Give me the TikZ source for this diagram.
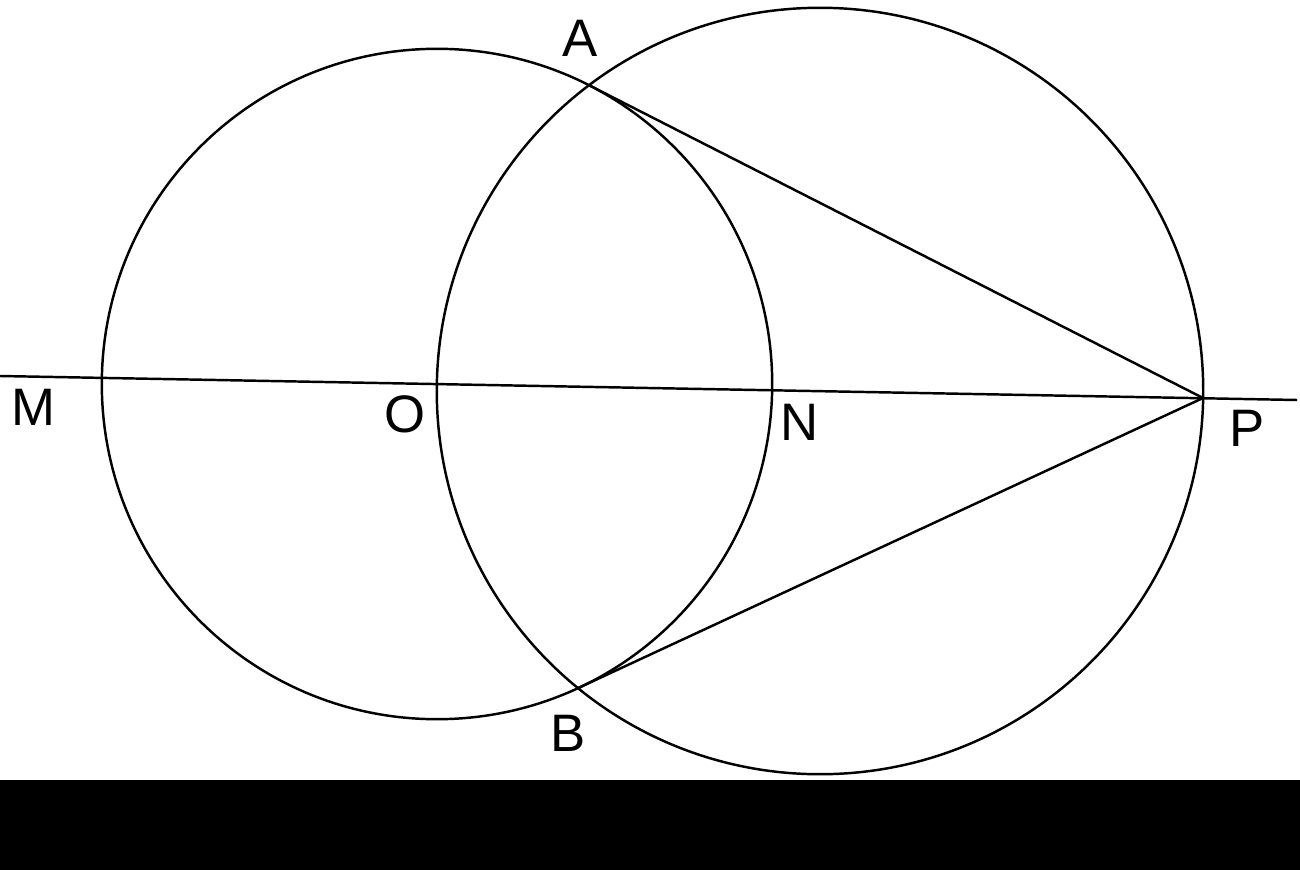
\documentclass[tikz,border=0pt]{standalone}
\usepackage{fontspec}
\setmainfont{Liberation Sans}
\usetikzlibrary{intersections}

\begin{document}
\begin{tikzpicture}[x=0.01cm, y=-0.01cm, line width=0.7pt,
    lbl/.style={inner sep=0pt, font=\fontsize{15}{18}\selectfont}]
        \useasboundingbox (0,0) rectangle (1300,870);
        \fill[white] (0,0) rectangle (1300,870);

        % Define the points on the line
        \coordinate (O) at (437,384);
        \coordinate (P) at (1203,398);
        \coordinate (C) at (820,391);
        \coordinate (Mend) at (0,376);
        \coordinate (Pend) at (1297,400);

        % Define the circles
        \draw[name path=small] (O) circle[radius=3.35cm];
        \draw[name path=big] (C) circle[radius=3.83cm];
        \path[name intersections={of=small and big, by={A,B}}];

        % Define the lines
        \draw (Mend) -- (Pend);
        \draw (A) -- (P);
        \draw (B) -- (P);

        % Labels
        \node[lbl] (lA) at (580,38) {A};
        \node[lbl] (lB) at (568,733) {B};
        \node[lbl] (lM) at (33,407) {M};
        \node[lbl] (lO) at (405,414) {O};
        \node[lbl] (lN) at (800,422) {N};
        \node[lbl] (lP) at (1247,428) {P};

        % Bottom bar
        \fill[black] (0,780) rectangle (1300,870);
    \end{tikzpicture}
\end{document}
